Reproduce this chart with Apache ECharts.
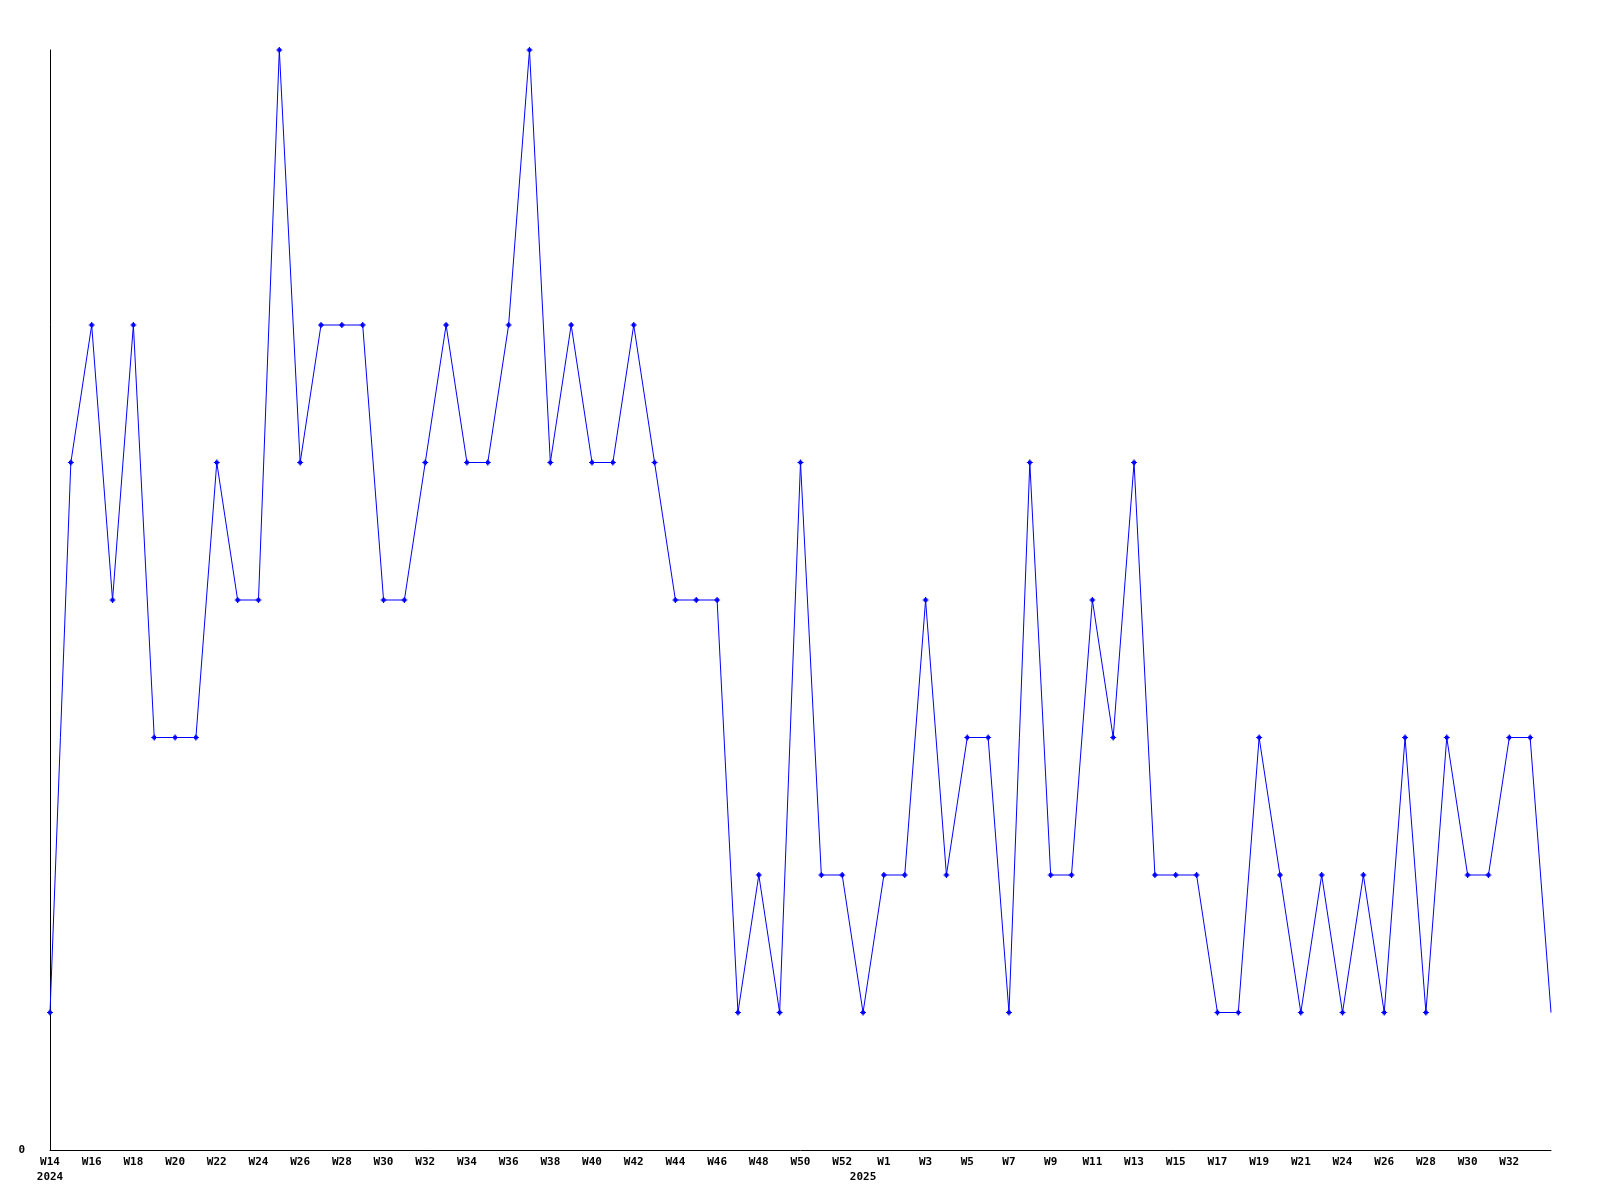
<!DOCTYPE html>
<html>
<head>
<meta charset="utf-8">
<script src="https://cdn.jsdelivr.net/npm/echarts@6/dist/echarts.min.js"></script>
<style>
html,body{margin:0;padding:0;background:#fff;}
#chart{width:1600px;height:1200px;}
</style>
</head>
<body>
<div id="chart"></div>
<script>
const weeks2024 = ['W14','W15','W16','W17','W18','W19','W20','W21','W22','W23','W24','W25','W26','W27','W28','W29','W30','W31','W32','W33','W34','W35','W36','W37','W38','W39','W40','W41','W42','W43','W44','W45','W46','W47','W48','W49','W50','W51','W52'];
const weeks2025 = ['W0','W1','W2','W3','W4','W5','W6','W7','W8','W9','W10','W11','W12','W13','W14','W15','W16','W17','W18','W19','W20','W21','W22','W24','W25','W26','W27','W28','W29','W30','W31','W32','W33','W34'];
const values2024 = [1,5,6,4,6,3,3,3,5,4,4,8,5,6,6,6,4,4,5,6,5,5,6,8,5,6,5,5,6,5,4,4,4,1,2,1,5,2,2];
const values2025 = [1,2,2,4,2,3,3,1,5,2,2,4,3,5,2,2,2,1,1,3,2,1,2,1,2,1,3,1,3,2,2,3,3,1];
const yearNames = ['2024','2025'];
const yTickLabels = ['0'];

const categories = weeks2024.concat(weeks2025);
const lastIndex = categories.length - 1;
const yearStart = {};
yearStart[0] = yearNames[0];
yearStart[weeks2024.length] = yearNames[1];
const allValues = values2024.concat(values2025);
const seriesData = allValues.map((v, i) => i === lastIndex ? {value: v, symbol: 'none'} : v);

const font = '"DejaVu Sans Mono", "Liberation Mono", monospace';
const chart = echarts.init(document.getElementById('chart'), null, {renderer: 'canvas'});
chart.setOption({
  animation: false,
  backgroundColor: '#ffffff',
  grid: {left: 50, right: 49, top: 50, bottom: 50, containLabel: false},
  xAxis: {
    type: 'category',
    data: categories,
    boundaryGap: false,
    axisLine: {show: true, lineStyle: {color: '#000', width: 1}},
    axisTick: {show: false},
    splitLine: {show: false},
    axisLabel: {
      interval: function (index) { return (index % 2 === 0 && index < lastIndex) || yearStart[index] !== undefined; },
      margin: 5,
      color: '#000',
      fontFamily: font,
      fontWeight: 'bold',
      fontSize: 11,
      lineHeight: 15,
      formatter: function (value, index) {
        const wk = (index % 2 === 0 && index < lastIndex) ? value : '';
        return yearStart[index] !== undefined ? wk + '\n' + yearStart[index] : wk;
      }
    }
  },
  yAxis: {
    type: 'value',
    min: 0,
    max: 8,
    interval: 8,
    axisLine: {show: true, lineStyle: {color: '#000', width: 1}},
    axisTick: {show: false},
    splitLine: {show: false},
    axisLabel: {
      margin: 25,
      color: '#000',
      fontFamily: font,
      fontWeight: 'bold',
      fontSize: 11,
      formatter: function (v) { return v === 0 ? yTickLabels[0] : ''; }
    }
  },
  series: [{
    type: 'line',
    data: seriesData,
    symbol: 'path://M2,0H3V1H4V2H5V3H4V4H3V5H2V4H1V3H0V2H1V1H2Z',
    symbolSize: 6,
    showSymbol: true,
    itemStyle: {color: '#0000ff', borderWidth: 0},
    lineStyle: {color: '#0000ff', width: 1}
  }]
});
</script>
</body>
</html>
